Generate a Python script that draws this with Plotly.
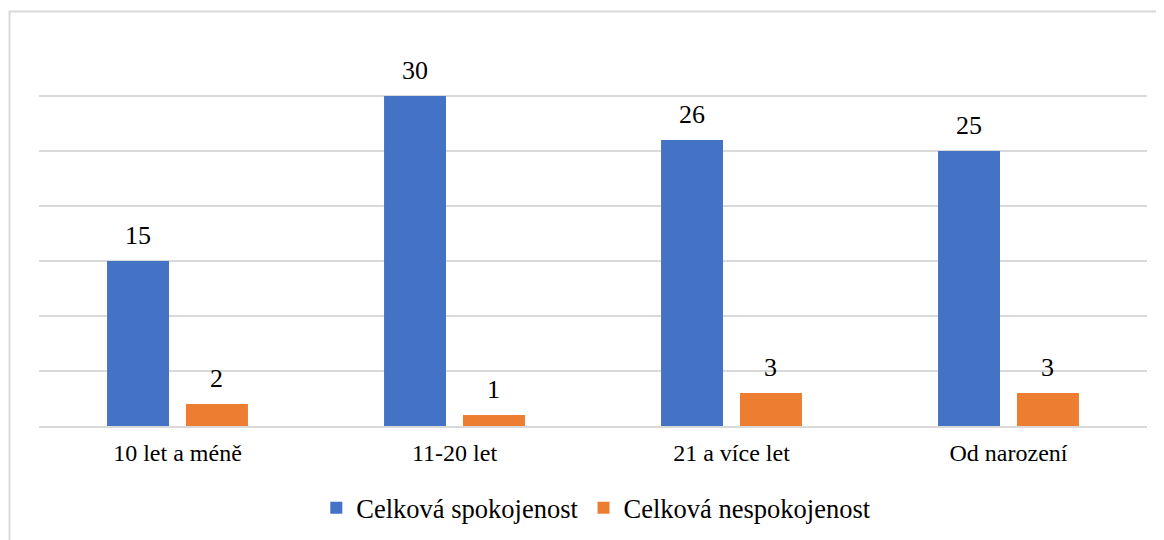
import plotly.graph_objects as go

categories = ["10 let a méně", "11-20 let", "21 a více let", "Od narození"]
spokojenost = [15, 30, 26, 25]
nespokojenost = [2, 1, 3, 3]
series_names = ["Celková spokojenost", "Celková nespokojenost"]
colors = ["#4472C4", "#ED7D31"]

FONT = "Liberation Serif"

W, H = 1164, 540
ML, MR, MT, MB = 31, 25, 33, 122
BARGAP, GROUPGAP = 0.43, 0.215

fig = go.Figure()
for name, vals, col in zip(series_names, [spokojenost, nespokojenost], colors):
    fig.add_trace(go.Bar(
        x=categories, y=vals, name=name,
        marker=dict(color=col, line=dict(width=0)),
    ))

# data labels placed above each bar through the axis scales
plot_w = W - ML - MR
slot_px = plot_w / len(categories) * (1 - BARGAP) / 2
for i, vals in enumerate([spokojenost, nespokojenost]):
    for cat, v in zip(categories, vals):
        fig.add_annotation(x=cat, y=v, text=str(v), showarrow=False,
                           xshift=(i - 0.5) * slot_px, yshift=9, yanchor="bottom",
                           font=dict(family=FONT, size=26, color="#000000"))

fig.update_layout(
    width=W, height=H,
    margin=dict(l=ML, r=MR, t=MT, b=MB),
    paper_bgcolor="white", plot_bgcolor="white",
    barmode="group", bargap=BARGAP, bargroupgap=GROUPGAP,
    font=dict(family=FONT, color="#000000"),
    showlegend=True,
    legend=dict(orientation="h", x=0.503, xanchor="center", y=-0.213, yanchor="middle",
                font=dict(family=FONT, size=26.5, color="#000000"),
                itemwidth=30, traceorder="normal"),
)
fig.update_xaxes(showgrid=False, showline=True, linecolor="#D9D9D9", linewidth=2,
                 ticks="", ticklabelstandoff=4,
                 tickfont=dict(family=FONT, size=24, color="#000000"))
fig.update_yaxes(range=[0, 35], dtick=5, showgrid=True, gridcolor="#D9D9D9", gridwidth=2,
                 showticklabels=False, zeroline=False, showline=False, ticks="")
fig.add_shape(type="rect", xref="paper", yref="paper", x0=-0.0266, x1=1.05, y0=-0.5, y1=1.0766,
              line=dict(color="#D9D9D9", width=2), fillcolor="rgba(0,0,0,0)", layer="below")

fig.write_html("out.html")
